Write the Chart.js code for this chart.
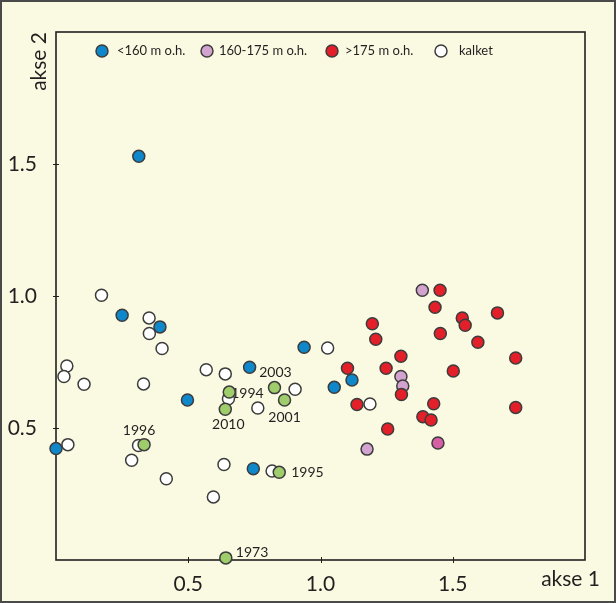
<!DOCTYPE html>
<html>
<head>
<meta charset="utf-8">
<script src="https://cdn.jsdelivr.net/npm/chart.js@4"></script>
<style>
  body { margin: 0; background: #fafae2; }
  canvas { display: block; }
</style>
</head>
<body>
<canvas id="ordination" width="616" height="603"></canvas>
<script>
// Ordination scores (akse 1, akse 2)
const under160 = [
    [0.313, 1.529], [0.250, 0.927], [0.393, 0.883], [0.938, 0.806], [0.732, 0.730],
    [0.497, 0.606], [0.000, 0.422], [0.746, 0.346], [1.119, 0.682], [1.052, 0.654]
];
const between160and175 = [
    [1.385, 1.022], [1.304, 0.695], [1.311, 0.659], [1.176, 0.420], [1.444, 0.443]
];
const over175 = [
    [1.452, 1.022], [1.433, 0.957], [1.536, 0.917], [1.547, 0.889], [1.669, 0.936],
    [1.196, 0.895], [1.209, 0.836], [1.453, 0.858], [1.595, 0.825], [1.304, 0.772],
    [1.738, 0.765], [1.102, 0.726], [1.248, 0.726], [1.502, 0.716], [1.306, 0.627],
    [1.138, 0.589], [1.428, 0.592], [1.738, 0.578], [1.387, 0.543], [1.418, 0.530],
    [1.254, 0.496]
];
const kalket = [
    [0.172, 1.003], [0.352, 0.917], [0.353, 0.858], [0.401, 0.801], [0.041, 0.735],
    [0.030, 0.695], [0.106, 0.666], [0.331, 0.667], [0.568, 0.721], [0.640, 0.705],
    [0.652, 0.611], [0.904, 0.647], [0.763, 0.576], [0.045, 0.437], [0.312, 0.434],
    [0.286, 0.378], [0.417, 0.308], [0.635, 0.362], [0.595, 0.239], [0.817, 0.337],
    [1.027, 0.803], [1.187, 0.591]
];
const years = ["1994", "2003", "2001", "2010", "1996", "1995", "1973"];
const yearScores = [
    [0.655, 0.636], [0.826, 0.653], [0.864, 0.606], [0.640, 0.571],
    [0.333, 0.437], [0.844, 0.332], [0.642, 0.008]
];
const legendLabels = ["<160 m o.h.", "160-175 m o.h.", ">175 m o.h.", "kalket"];
const xTicks = [0.5, 1.0, 1.5];
const yTicks = [0.5, 1.0, 1.5];

const FONT = "Lato, 'Open Sans', sans-serif";
const INK = "#231f20";
const EDGE = "#3c3c3c";
const colors = {
    blue: "#0e87cb",
    pink: "#d3a3cf",
    red: "#e3202a",
    white: "#ffffff",
    green: "#9fcd6b",
    magenta: "#d65ea5"
};

const toXY = (arr) => arr.map(([x, y]) => ({ x: x, y: y }));

function pointStyle(color, order) {
    return {
        backgroundColor: color,
        borderColor: EDGE,
        borderWidth: 1.5,
        pointRadius: 6,
        pointHoverRadius: 6,
        clip: false,
        order: order
    };
}

// label offsets for the year points (dx, dy, alignment)
const yearLabelPlacement = [
    [2, 1, "left"], [1, -15, "center"], [0, 17, "center"], [3, 15, "center"],
    [-5, -14, "center"], [12, 0, "left"], [10, -5, "left"]
];

const framePlugin = {
    id: "frame",
    beforeDraw(chart) {
        const { ctx, width, height } = chart;
        ctx.save();
        ctx.fillStyle = "#fafae2";
        ctx.fillRect(0, 0, width, height);
        ctx.strokeStyle = "#4a4a4a";
        ctx.lineWidth = 2;
        ctx.strokeRect(1, 1, width - 2, height - 2);
        ctx.restore();
    },
    beforeDatasetsDraw(chart) {
        const { ctx, chartArea: a, scales } = chart;
        ctx.save();
        // plot frame
        ctx.strokeStyle = INK;
        ctx.lineWidth = 1.6;
        ctx.strokeRect(a.left, a.top, a.right - a.left, a.bottom - a.top);
        // ticks crossing the axes
        ctx.lineWidth = 1;
        xTicks.forEach((v) => {
            const px = Math.round(scales.x.getPixelForValue(v)) + 0.5;
            ctx.beginPath();
            ctx.moveTo(px, a.bottom - 3);
            ctx.lineTo(px, a.bottom + 3);
            ctx.stroke();
        });
        yTicks.forEach((v) => {
            const py = Math.round(scales.y.getPixelForValue(v)) + 0.5;
            ctx.beginPath();
            ctx.moveTo(a.left - 3, py);
            ctx.lineTo(a.left + 3, py);
            ctx.stroke();
        });
        // year labels, under the points
        const meta = chart.getDatasetMeta(4);
        ctx.fillStyle = INK;
        ctx.font = "14px " + FONT;
        ctx.textBaseline = "middle";
        meta.data.forEach((pt, i) => {
            const [dx, dy, align] = yearLabelPlacement[i];
            ctx.textAlign = align;
            ctx.fillText(years[i], pt.x + dx, pt.y + dy);
        });
        ctx.restore();
    },
    afterDraw(chart) {
        const { ctx, chartArea: a } = chart;
        ctx.save();
        // axis titles
        ctx.fillStyle = INK;
        ctx.font = "21px " + FONT;
        ctx.textBaseline = "middle";
        ctx.textAlign = "right";
        ctx.fillText("akse 1", 600, 579);
        ctx.translate(39, a.top);
        ctx.rotate(-Math.PI / 2);
        ctx.textAlign = "right";
        ctx.fillText("akse 2", 0, 0);
        ctx.restore();

        // legend inside the plot
        ctx.save();
        const fills = [colors.blue, colors.pink, colors.red, colors.white];
        const markerX = [46, 151, 276, 385];
        const textX = [61, 163, 289, 403];
        const ly = a.top + 19;
        ctx.font = "13px " + FONT;
        ctx.textAlign = "left";
        ctx.textBaseline = "middle";
        legendLabels.forEach((label, i) => {
            ctx.beginPath();
            ctx.arc(a.left + markerX[i], ly, 6, 0, Math.PI * 2);
            ctx.fillStyle = fills[i];
            ctx.fill();
            ctx.lineWidth = 1.5;
            ctx.strokeStyle = EDGE;
            ctx.stroke();
            ctx.fillStyle = INK;
            ctx.fillText(label, a.left + textX[i], ly);
        });
        ctx.restore();
    }
};

const ctx = document.getElementById("ordination").getContext("2d");

new Chart(ctx, {
    type: "scatter",
    data: {
        datasets: [
            Object.assign({ label: legendLabels[0], data: toXY(under160) }, pointStyle(colors.blue, 2)),
            Object.assign({
                label: legendLabels[1],
                data: toXY(between160and175)
            }, pointStyle([colors.pink, colors.pink, colors.pink, colors.pink, colors.magenta], 5)),
            Object.assign({ label: legendLabels[2], data: toXY(over175) }, pointStyle(colors.red, 4)),
            Object.assign({ label: legendLabels[3], data: toXY(kalket) }, pointStyle(colors.white, 3)),
            Object.assign({ label: "år", data: toXY(yearScores) }, pointStyle(colors.green, 1))
        ]
    },
    options: {
        responsive: false,
        animation: false,
        layout: {
            padding: { top: 32, right: 31, left: 0, bottom: 0 }
        },
        scales: {
            x: {
                type: "linear",
                min: 0,
                max: 2,
                afterBuildTicks: (scale) => {
                    scale.ticks = xTicks.map((v) => ({ value: v }));
                },
                afterFit: (scale) => {
                    scale.height = 43;
                },
                grid: { display: false },
                border: { display: false },
                ticks: {
                    color: INK,
                    font: { family: FONT, size: 21 },
                    padding: 4,
                    callback: (v) => Number(v).toFixed(1)
                }
            },
            y: {
                type: "linear",
                min: 0,
                max: 2,
                afterBuildTicks: (scale) => {
                    scale.ticks = yTicks.map((v) => ({ value: v }));
                },
                afterFit: (scale) => {
                    scale.width = 56;
                },
                grid: { display: false },
                border: { display: false },
                ticks: {
                    color: INK,
                    font: { family: FONT, size: 21 },
                    padding: 11,
                    callback: (v) => Number(v).toFixed(1)
                }
            }
        },
        plugins: {
            legend: { display: false },
            tooltip: { enabled: false }
        }
    },
    plugins: [framePlugin]
});
</script>
</body>
</html>
